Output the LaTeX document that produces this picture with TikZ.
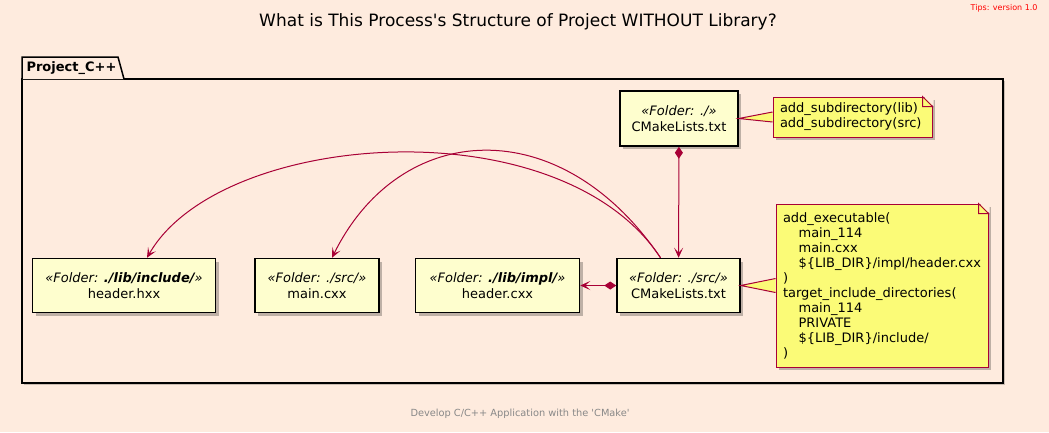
\documentclass[tikz,border=0pt]{standalone}
\usepackage{fontspec}
\setmainfont{DejaVu Sans}
\usepackage{tikz}
\usetikzlibrary{arrows.meta, positioning, shadows}
\definecolor{bgpeach}{RGB}{254,235,222}
\definecolor{nodefill}{RGB}{254,254,206}
\definecolor{notefill}{RGB}{251,251,119}
\definecolor{umlred}{RGB}{168,0,54}
\definecolor{footgray}{RGB}{136,136,136}
\tikzstyle{folder} = [rectangle, draw=black, line width=1.5pt, fill=nodefill, minimum height=54pt, align=center, font=\fontsize{13}{16}\selectfont, drop shadow={shadow xshift=3pt, shadow yshift=-3pt, opacity=0.25, fill=black}]
\tikzstyle{note} = [rectangle, draw=umlred, line width=1pt, fill=notefill, align=left, inner xsep=7pt, inner ysep=4pt, font=\fontsize{13}{15}\selectfont, drop shadow={shadow xshift=3pt, shadow yshift=-3pt, opacity=0.25, fill=black}]
\tikzstyle{notelink} = [fill=notefill, draw=umlred, line width=1pt]
\tikzstyle{arrow} = [line width=1pt, draw=umlred, -{Stealth[length=10pt, width=9pt, inset=5pt, umlred]}]
\tikzstyle{owns} = [arrow, {Diamond[length=12pt, width=8pt, umlred]}-{Stealth[length=10pt, width=9pt, inset=5pt, umlred]}]
\tikzstyle{pkg} = [fill=bgpeach, draw=black, line width=1.5pt]
\newcommand{\dogear}[1]{%
  \fill[bgpeach] ([xshift=-10pt,yshift=1pt]#1.north east) -- ([xshift=1pt,yshift=1pt]#1.north east) -- ([xshift=1pt,yshift=-10pt]#1.north east) -- cycle;
  \draw[umlred, line width=1pt] ([xshift=-10pt]#1.north east) -- ([xshift=-10pt,yshift=-10pt]#1.north east) -- ([yshift=-10pt]#1.north east) -- cycle;}

\begin{document}
\begin{tikzpicture}[x=1pt, y=-1pt]
\fill[bgpeach] (0,0) rectangle (1049,432);
\useasboundingbox (0,0) rectangle (1049,432);

\node (title) at (518,22) {\fontsize{17}{20}\selectfont What is This Process\textquotesingle s Structure of Project WITHOUT Library?};
\node [anchor=east, text=red] (tips) at (1041,8) {\fontsize{8}{10}\selectfont Tips: version 1.0};

% package
\filldraw [pkg, drop shadow={shadow xshift=2pt, shadow yshift=-2pt, opacity=0.2, fill=black}] (22,79) rectangle (1003,383);
\filldraw [pkg] (22,79) -- (22,57) -- (118,57) -- (124,79);
\node [anchor=west, font=\bfseries\fontsize{13}{15}\selectfont] (pkgname) at (23,68) {Project\_C++};

\node [folder, minimum width=118pt, minimum height=55pt] (topcm) at (679,118.5) {\textit{«Folder: ./»}\\CMakeLists.txt};
\node [folder, minimum width=123pt] (srccm) at (678.5,285.5) {\textit{«Folder: ./src/»}\\CMakeLists.txt};
\node [folder, minimum width=164pt] (hcxx) [left=36pt of srccm] {\textit{«Folder: \textbf{./lib/impl/}»}\\header.cxx};
\node [folder, minimum width=124pt] (mcxx) [left=35pt of hcxx] {\textit{«Folder: ./src/»}\\main.cxx};
\node [folder, minimum width=183pt] (hhxx) [left=38pt of mcxx] {\textit{«Folder: \textbf{./lib/include/}»}\\header.hxx};

% notes
\node [note, minimum height=40pt, text width=145pt] (n1) at (852.5,117) {add\_subdirectory(lib)\\add\_subdirectory(src)};
\dogear{n1}
\node [note, minimum height=163pt, text width=198pt] (n2) at (882,285.5) {add\_executable(\\
\hspace*{1.2em}main\_114\\
\hspace*{1.2em}main.cxx\\
\hspace*{1.2em}\$\{LIB\_DIR\}/impl/header.cxx\\
)\\
target\_include\_directories(\\
\hspace*{1.2em}main\_114\\
\hspace*{1.2em}PRIVATE\\
\hspace*{1.2em}\$\{LIB\_DIR\}/include/\\
)};
\dogear{n2}

\path [notelink] ([yshift=5pt]n1.west) -- (topcm.east) -- ([yshift=-5pt]n1.west);
\path [notelink] ([yshift=7pt]n2.west) -- (srccm.east) -- ([yshift=-7pt]n2.west);

\draw [owns] (topcm) -- (srccm);
\draw [owns] (srccm) -- (hcxx);
\draw [arrow] ([xshift=-18pt]srccm.north) .. controls (560,110) and (400,120) .. ([xshift=15pt]mcxx.north);
\draw [arrow] ([xshift=-18pt]srccm.north) .. controls (560,105) and (220,130) .. ([xshift=23pt]hhxx.north);

\node [text=footgray] (foot) at (520,414) {\fontsize{9.8}{12}\selectfont Develop C/C++ Application with the \textquotesingle CMake\textquotesingle};
\end{tikzpicture}
\end{document}
